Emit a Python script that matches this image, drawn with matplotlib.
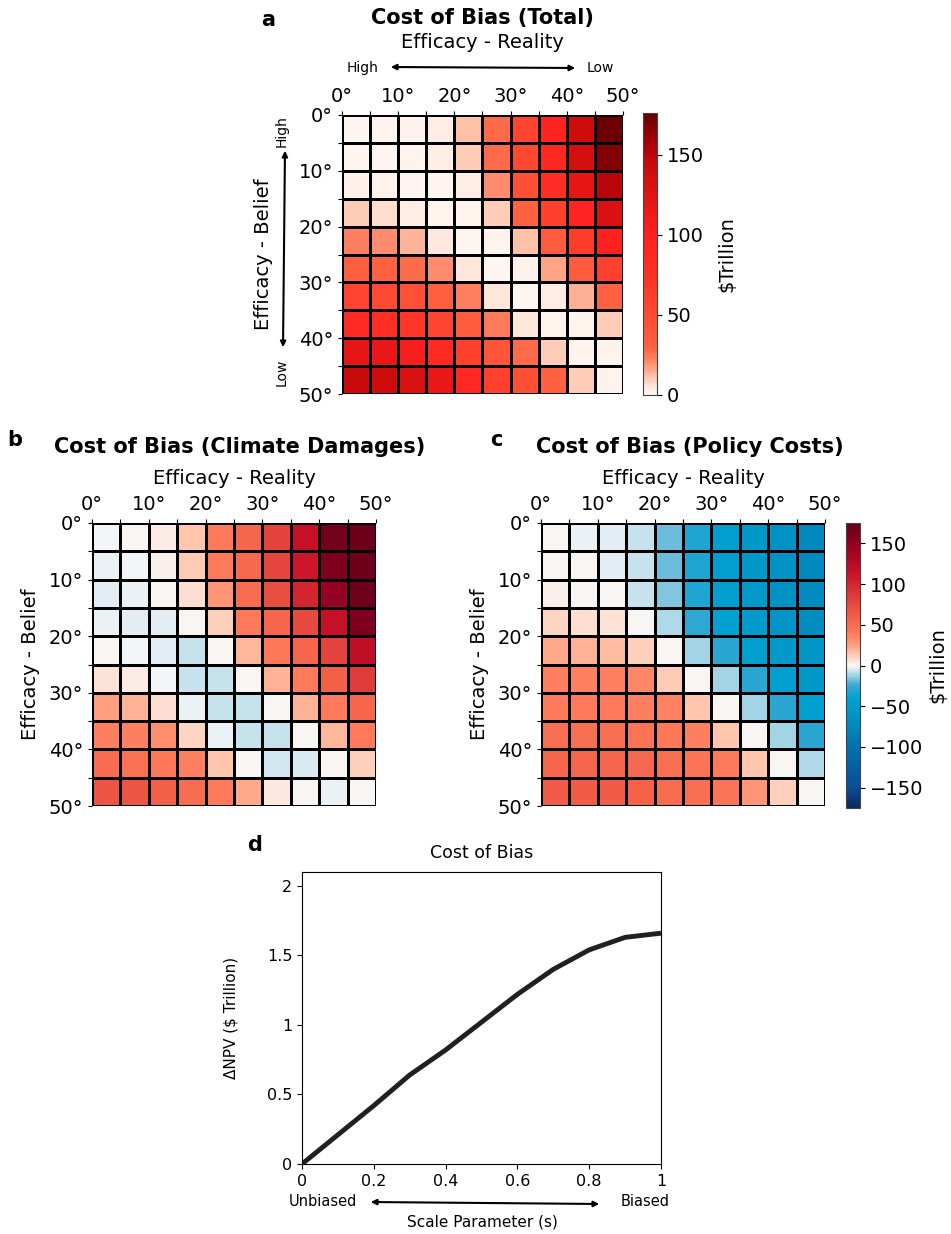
import numpy as np
import matplotlib
matplotlib.use("Agg")
import matplotlib.pyplot as plt
from matplotlib.colors import LinearSegmentedColormap, Normalize
from matplotlib.patches import FancyArrowPatch

W, H = 951, 1234

# grid edges (degrees) and tick labels
edges = np.arange(0, 55, 5)
tick_vals = [0, 10, 20, 30, 40, 50]
tick_labels = ["0°", "10°", "20°", "30°", "40°", "50°"]

# rows = efficacy belief (0..45), cols = efficacy reality (0..45)
total = np.array([
    [0, 1, 2, 4, 12, 28, 55, 95, 140, 175],
    [0, 0, 1, 3, 10, 28, 52, 90, 135, 168],
    [2, 1, 0, 0, 4, 20, 45, 80, 120, 150],
    [10, 7, 4, 1, 1, 10, 30, 60, 95, 130],
    [22, 20, 14, 5, 0, 1, 12, 35, 65, 100],
    [32, 30, 27, 20, 6, 0, 2, 17, 35, 60],
    [55, 50, 45, 32, 22, 6, 0, 4, 15, 30],
    [85, 80, 70, 55, 35, 24, 6, 1, 1, 10],
    [120, 118, 105, 85, 60, 40, 28, 10, 1, 1],
    [145, 140, 130, 118, 90, 60, 45, 30, 10, 1],
])

damages = np.array([
    [-1, 0, 3, 15, 40, 55, 80, 115, 168, 172],
    [-2, -1, 2, 13, 40, 52, 78, 110, 160, 170],
    [-3, -2, 0, 8, 30, 50, 72, 100, 145, 170],
    [-2, -3, -3, 0, 12, 40, 55, 75, 115, 160],
    [1, -1, -4, -7, 0, 18, 42, 55, 80, 120],
    [6, 4, -1, -7, -8, 0, 20, 40, 60, 85],
    [25, 20, 8, -2, -8, -8, 0, 20, 40, 55],
    [38, 38, 32, 10, -2, -8, -8, 0, 18, 40],
    [50, 47, 42, 37, 14, 1, -6, -5, 0, 12],
    [68, 68, 60, 50, 40, 22, 5, 1, -2, 0],
])

policy = np.array([
    [0, -2, -4, -8, -18, -32, -45, -55, -65, -75],
    [0, 0, -3, -8, -18, -32, -45, -55, -65, -75],
    [2, 1, 0, -7, -16, -32, -45, -55, -65, -72],
    [10, 8, 6, 0, -10, -28, -42, -52, -62, -70],
    [22, 20, 17, 11, 0, -12, -30, -45, -55, -62],
    [38, 38, 38, 35, 13, 0, -12, -30, -45, -55],
    [40, 40, 40, 38, 36, 14, 0, -12, -30, -42],
    [48, 48, 48, 46, 42, 38, 14, 0, -12, -30],
    [55, 55, 55, 52, 48, 45, 40, 15, 0, -10],
    [62, 62, 62, 58, 50, 48, 44, 30, 12, 0],
])

s_vals = [0, 0.1, 0.2, 0.3, 0.4, 0.5, 0.6, 0.7, 0.8, 0.9, 1.0]
npv = [0, 0.21, 0.42, 0.64, 0.82, 1.02, 1.22, 1.40, 1.54, 1.63, 1.66]

# colormaps
red_pts = [(0, "#fff5f0"), (5, "#ffe8de"), (10, "#ffcab4"), (15, "#ffac90"),
           (22, "#ff8060"), (30, "#ff6040"), (50, "#ff4a32"), (75, "#ff3024"),
           (100, "#ff2020"), (125, "#e01414"), (145, "#c80a0a"),
           (160, "#a00008"), (176, "#6a0000")]
reds = LinearSegmentedColormap.from_list("reds", [(v / 176, c) for v, c in red_pts])

div_pts = [(-175, "#0a2a5c"), (-150, "#0a4e96"), (-100, "#0270b0"),
           (-60, "#0096c8"), (-40, "#00a2d2"), (-25, "#3aa8d2"),
           (-15, "#88c8e0"), (-6, "#d2e8f0"), (0, "#f7f7f7"), (6, "#fde4d8"),
           (15, "#ffc4aa"), (25, "#ffa080"), (40, "#ff7a5a"), (60, "#f26048"),
           (85, "#e03c3a"), (115, "#c81028"), (150, "#900020"), (175, "#68001a")]
div = LinearSegmentedColormap.from_list("div", [((v + 175) / 350, c) for v, c in div_pts])


def box(l, t, w, h):
    return [l / W, 1 - (t + h) / H, w / W, h / H]


def fx(x):
    return x / W


def fy(y):
    return 1 - y / H


def arrow(x1, y1, x2, y2):
    fig.add_artist(FancyArrowPatch((fx(x1), fy(y1)), (fx(x2), fy(y2)),
                                   transform=fig.transFigure, arrowstyle="<|-|>",
                                   mutation_scale=8, color="k", lw=1.5))


fig = plt.figure(figsize=(W / 100, H / 100), dpi=100)


def heat(rect, data, cmap, norm, xpad, ypad):
    ax = fig.add_axes(box(*rect))
    m = ax.pcolormesh(edges, edges, data, cmap=cmap, norm=norm,
                      edgecolors="k", linewidth=0.9)
    ax.set_xlim(0, 50)
    ax.set_ylim(50, 0)
    ax.xaxis.tick_top()
    ax.xaxis.set_label_position("top")
    ax.set_xticks(edges, minor=True)
    ax.set_yticks(edges, minor=True)
    ax.set_xticks(tick_vals)
    ax.set_yticks(tick_vals)
    ax.set_xticklabels(tick_labels, fontsize=14)
    ax.set_yticklabels(tick_labels, fontsize=14)
    ax.tick_params(which="both", length=3, width=0.8)
    ax.set_xlabel("Efficacy - Reality", fontsize=14, labelpad=xpad)
    ax.set_ylabel("Efficacy - Belief", fontsize=14, labelpad=ypad)
    for s in ax.spines.values():
        s.set_visible(False)
    return ax, m


# panel a
axa, ma = heat((342, 115, 281, 279), total, reds, Normalize(0, 176), 28, 18)
fig.text(fx(482), fy(18), "Cost of Bias (Total)", fontsize=15,
         fontweight="bold", ha="center", va="center")
fig.text(fx(268), fy(20), "a", fontsize=15, fontweight="bold",
         ha="center", va="center")
fig.text(fx(363), fy(68), "High", fontsize=10, ha="center", va="center")
fig.text(fx(600), fy(68), "Low", fontsize=10, ha="center", va="center")
arrow(388, 67, 578, 68)
fig.text(fx(282), fy(131), "High", fontsize=10, rotation=90,
         ha="center", va="center")
fig.text(fx(282), fy(372), "Low", fontsize=10, rotation=90,
         ha="center", va="center")
arrow(285, 148, 283, 350)
cba = fig.add_axes(box(643, 113, 14, 282))
cb1 = fig.colorbar(ma, cax=cba, ticks=[0, 50, 100, 150])
cb1.ax.tick_params(labelsize=14)
cb1.outline.set_edgecolor("#444444")
cb1.set_label("$Trillion", fontsize=14, labelpad=10)

# panel b and c
normd = Normalize(-175, 175)
axb, mb = heat((92, 523, 284, 283), damages, div, normd, 8, 6)
fig.text(fx(240), fy(447), "Cost of Bias (Climate Damages)", fontsize=15,
         fontweight="bold", ha="center", va="center")
fig.text(fx(15), fy(440), "b", fontsize=15, fontweight="bold",
         ha="center", va="center")
axc, mc = heat((541, 523, 284, 283), policy, div, normd, 8, 6)
fig.text(fx(690), fy(447), "Cost of Bias (Policy Costs)", fontsize=15,
         fontweight="bold", ha="center", va="center")
fig.text(fx(496), fy(440), "c", fontsize=15, fontweight="bold",
         ha="center", va="center")
cbc = fig.add_axes(box(846, 523, 14, 285))
cb2 = fig.colorbar(mc, cax=cbc, ticks=[150, 100, 50, 0, -50, -100, -150])
cb2.ax.tick_params(labelsize=14)
cb2.outline.set_edgecolor("#444444")
cb2.set_label("$Trillion", fontsize=14, labelpad=4)

# panel d
axd = fig.add_axes(box(302, 872, 359, 292))
axd.plot(s_vals, npv, color="#231f20", lw=3.5, solid_capstyle="butt")
axd.set_xlim(0, 1)
axd.set_ylim(0, 2.1)
axd.set_xticks([0, 0.2, 0.4, 0.6, 0.8, 1])
axd.set_xticklabels(["0", "0.2", "0.4", "0.6", "0.8", "1"])
axd.set_yticks([0, 0.5, 1, 1.5, 2])
axd.set_yticklabels(["0", "0.5", "1", "1.5", "2"])
axd.tick_params(labelsize=11.5)
axd.set_title("Cost of Bias", fontsize=12.5, pad=10)
axd.set_ylabel("ΔNPV (\\$ Trillion)", fontsize=11, labelpad=20)
fig.text(fx(482), fy(1222), "Scale Parameter (s)", fontsize=11,
         ha="center", va="center")
fig.text(fx(323), fy(1202), "Unbiased", fontsize=10.5, ha="center", va="center")
fig.text(fx(645), fy(1202), "Biased", fontsize=10.5, ha="center", va="center")
arrow(368, 1202, 602, 1204)
fig.text(fx(255), fy(845), "d", fontsize=15, fontweight="bold",
         ha="center", va="center")

fig.savefig("out.png", dpi=100)
